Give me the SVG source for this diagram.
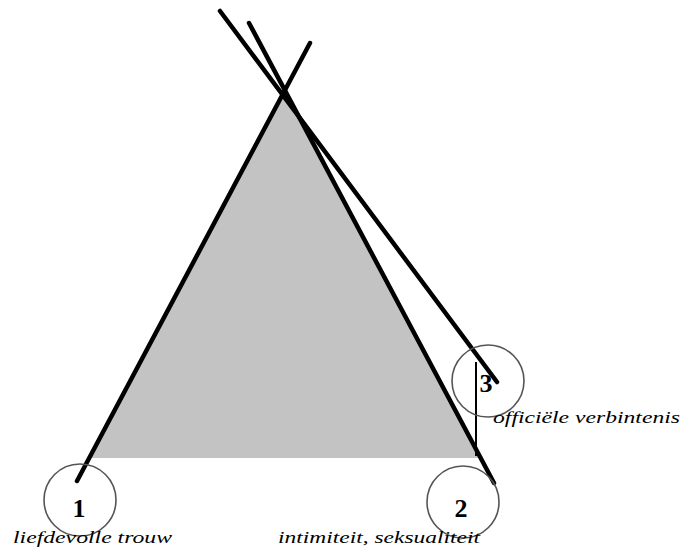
<svg xmlns="http://www.w3.org/2000/svg" width="693" height="552" viewBox="0 0 693 552">
<style>
.leg{stroke:#000;stroke-width:4.5;stroke-linecap:round;fill:none}
.ring{fill:none;stroke:#555;stroke-width:1.6}
.num{font-family:"Liberation Serif",serif;font-weight:bold;font-size:26px;fill:#000;text-anchor:middle}
.lbl{font-family:"Liberation Serif",serif;font-style:italic;font-size:17px;fill:#000}
</style>
<rect width="693" height="552" fill="#fff"/>
<polygon id="area" points="285,91 90,458 480,458" fill="#c3c3c3"/>
<g id="connectors">
<line class="leg" x1="77" y1="481" x2="310" y2="43"/>
<line class="leg" x1="220" y1="11" x2="497" y2="382"/>
<line class="leg" x1="249" y1="23" x2="494" y2="483"/>
<line x1="476" y1="362" x2="476" y2="456" stroke="#000" stroke-width="2"/>
</g>
<g id="node1">
<circle class="ring" cx="80" cy="500" r="36"/>
<text class="num" x="79" y="517">1</text>
<text class="lbl" x="13" y="543" textLength="159" lengthAdjust="spacingAndGlyphs">liefdevolle trouw</text>
</g>
<g id="node2">
<circle class="ring" cx="463" cy="502" r="36"/>
<text class="num" x="461" y="517">2</text>
<text class="lbl" x="278" y="543" textLength="202" lengthAdjust="spacingAndGlyphs">intimiteit, seksualiteit</text>
</g>
<g id="node3">
<circle class="ring" cx="488" cy="381" r="36"/>
<text class="num" x="486" y="392">3</text>
<text class="lbl" x="493" y="423" textLength="187" lengthAdjust="spacingAndGlyphs">officiële verbintenis</text>
</g>
</svg>
